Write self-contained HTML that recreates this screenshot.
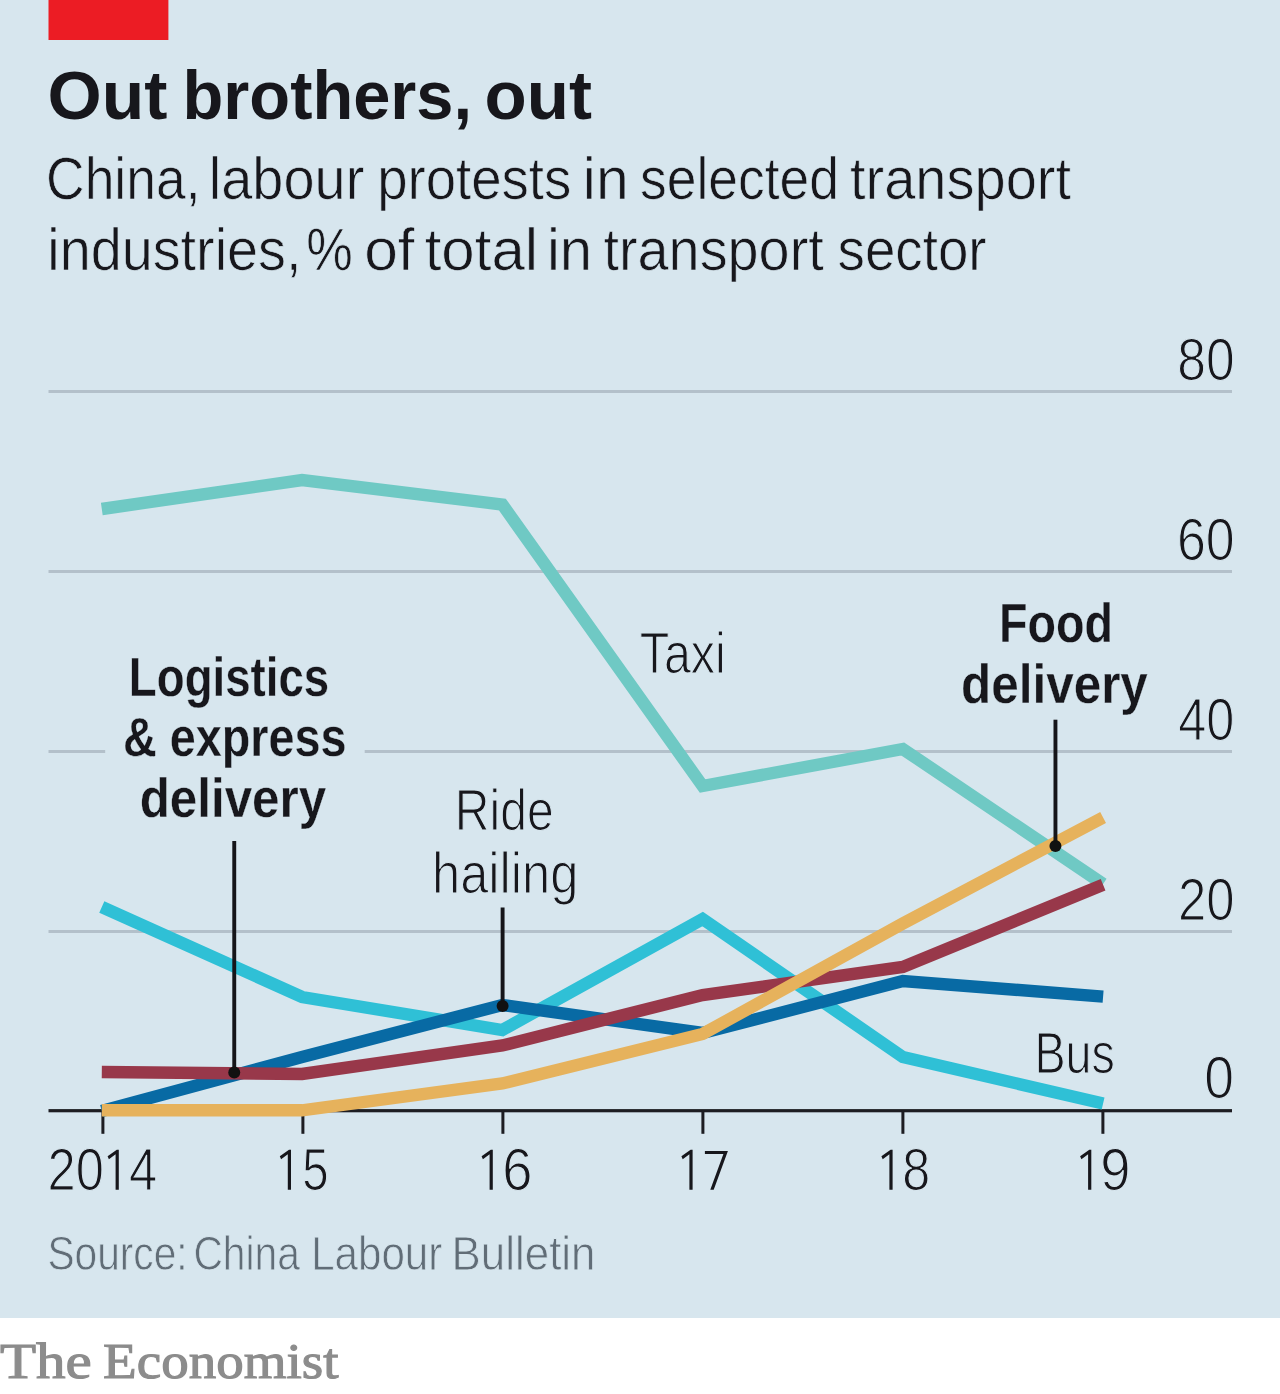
<!DOCTYPE html>
<html><head><meta charset="utf-8"><title>Out brothers, out</title>
<style>html,body{margin:0;padding:0;background:#fff}svg{display:block;will-change:transform}text{font-family:"Liberation Sans",sans-serif}</style></head>
<body>
<svg width="1280" height="1394" viewBox="0 0 1280 1394">
<rect x="0" y="0" width="1280" height="1318" fill="#d7e6ee"/>
<rect x="48.5" y="0" width="119.9" height="40" fill="#ec1c24"/>
<rect x="48.5" y="390.0" width="1183.5" height="3" fill="#b3c0ca"/>
<rect x="48.5" y="570.0" width="1183.5" height="3" fill="#b3c0ca"/>
<rect x="48.5" y="930.0" width="1183.5" height="3" fill="#b3c0ca"/>
<rect x="48.5" y="750.0" width="56.7" height="3" fill="#b3c0ca"/>
<rect x="364.7" y="750.0" width="867.3" height="3" fill="#b3c0ca"/>
<rect x="48.5" y="1109.1" width="1183.5" height="3.2" fill="#1d1d22"/>
<rect x="101.4" y="1110" width="3" height="23.8" fill="#1d1d22"/>
<rect x="301.4" y="1110" width="3" height="23.8" fill="#1d1d22"/>
<rect x="501.4" y="1110" width="3" height="23.8" fill="#1d1d22"/>
<rect x="701.4" y="1110" width="3" height="23.8" fill="#1d1d22"/>
<rect x="901.4" y="1110" width="3" height="23.8" fill="#1d1d22"/>
<rect x="1101.4" y="1110" width="3" height="23.8" fill="#1d1d22"/>
<polyline points="101.8,509 302.06,480 502.32,504.5 702.58,786 902.84,749 1103.1,884" fill="none" stroke="#6fc9c4" stroke-width="12.4" stroke-linejoin="miter" stroke-linecap="butt"/>
<polyline points="101.8,907 302.06,997 502.32,1030 702.58,919 902.84,1057 1103.1,1103.5" fill="none" stroke="#2fc0d6" stroke-width="12.4" stroke-linejoin="miter" stroke-linecap="butt"/>
<polyline points="101.8,1111 302.06,1057 502.32,1005 702.58,1033 902.84,981 1103.1,996.6" fill="none" stroke="#086aa4" stroke-width="12.4" stroke-linejoin="miter" stroke-linecap="butt"/>
<polyline points="101.8,1072 302.06,1074 502.32,1045.5 702.58,995 902.84,967 1103.1,884.8" fill="none" stroke="#98384a" stroke-width="12.4" stroke-linejoin="miter" stroke-linecap="butt"/>
<polyline points="101.8,1110.3 302.06,1110.3 502.32,1083.5 702.58,1034 902.84,923.5 1103.1,817.5" fill="none" stroke="#e6b25c" stroke-width="12.4" stroke-linejoin="miter" stroke-linecap="butt"/>
<rect x="232.30" y="841" width="3.9" height="231.50" fill="#151519"/>
<circle cx="234.25" cy="1072.5" r="6" fill="#111"/>
<rect x="500.65" y="907.5" width="3.9" height="98.50" fill="#151519"/>
<circle cx="502.6" cy="1006.0" r="6" fill="#111"/>
<rect x="1053.50" y="719.7" width="3.9" height="126.40" fill="#151519"/>
<circle cx="1055.45" cy="846.1" r="6" fill="#111"/>
<polygon points="118.80,1149.70 118.80,1189.80 115.60,1189.80 115.60,1154.30 108.90,1159.20 107.60,1156.30 116.80,1149.70" fill="#17171c"/>
<polygon points="291.00,1149.70 291.00,1189.80 287.80,1189.80 287.80,1154.30 281.10,1159.20 279.80,1156.30 289.00,1149.70" fill="#17171c"/>
<polygon points="492.80,1149.70 492.80,1189.80 489.60,1189.80 489.60,1154.30 482.90,1159.20 481.60,1156.30 490.80,1149.70" fill="#17171c"/>
<polygon points="692.60,1149.70 692.60,1189.80 689.40,1189.80 689.40,1154.30 682.70,1159.20 681.40,1156.30 690.60,1149.70" fill="#17171c"/>
<polygon points="892.60,1149.70 892.60,1189.80 889.40,1189.80 889.40,1154.30 882.70,1159.20 881.40,1156.30 890.60,1149.70" fill="#17171c"/>
<polygon points="1091.30,1149.70 1091.30,1189.80 1088.10,1189.80 1088.10,1154.30 1081.40,1159.20 1080.10,1156.30 1089.30,1149.70" fill="#17171c"/>
<polygon points="704.9,1151.1 727.9,1151.1 713.7,1189.8 710.3,1189.8 723.4,1154.0 704.9,1154.0" fill="#17171c"/>
<text transform="translate(47.53,118.90) scale(1.0246,1)" font-weight="bold" font-size="68" fill="#17171c">Out</text>
<text transform="translate(182.56,118.90) scale(0.9825,1)" font-weight="bold" font-size="68" fill="#17171c">brothers,</text>
<text transform="translate(484.57,118.90) scale(1.0156,1)" font-weight="bold" font-size="68" fill="#17171c">out</text>
<text transform="translate(46.07,199.40) scale(0.9057,1)" font-size="59" fill="#17171c" stroke="#d7e6ee" stroke-width="0.7">China,</text>
<text transform="translate(208.85,199.40) scale(0.9476,1)" font-size="59" fill="#17171c" stroke="#d7e6ee" stroke-width="0.7">labour</text>
<text transform="translate(377.14,199.40) scale(0.9254,1)" font-size="59" fill="#17171c" stroke="#d7e6ee" stroke-width="0.7">protests</text>
<text transform="translate(582.85,199.40) scale(0.9973,1)" font-size="59" fill="#17171c" stroke="#d7e6ee" stroke-width="0.7">in</text>
<text transform="translate(640.05,199.40) scale(0.9053,1)" font-size="59" fill="#17171c" stroke="#d7e6ee" stroke-width="0.7">selected</text>
<text transform="translate(849.97,199.40) scale(0.9497,1)" font-size="59" fill="#17171c" stroke="#d7e6ee" stroke-width="0.7">transport</text>
<text transform="translate(47.27,269.70) scale(0.9457,1)" font-size="59" fill="#17171c" stroke="#d7e6ee" stroke-width="0.7">industries,</text>
<text transform="translate(306.31,269.70) scale(0.8877,1)" font-size="59" fill="#17171c" stroke="#d7e6ee" stroke-width="0.7">%</text>
<text transform="translate(364.22,269.70) scale(1.0253,1)" font-size="59" fill="#17171c" stroke="#d7e6ee" stroke-width="0.7">of</text>
<text transform="translate(424.68,269.70) scale(1.0170,1)" font-size="59" fill="#17171c" stroke="#d7e6ee" stroke-width="0.7">total</text>
<text transform="translate(546.91,269.70) scale(0.9839,1)" font-size="59" fill="#17171c" stroke="#d7e6ee" stroke-width="0.7">in</text>
<text transform="translate(603.47,269.70) scale(0.9462,1)" font-size="59" fill="#17171c" stroke="#d7e6ee" stroke-width="0.7">transport</text>
<text transform="translate(837.60,269.70) scale(0.9271,1)" font-size="59" fill="#17171c" stroke="#d7e6ee" stroke-width="0.7">sector</text>
<text transform="translate(1177.37,379.70) scale(0.8811,1)" font-size="58.5" fill="#17171c" stroke="#d7e6ee" stroke-width="1.2">80</text>
<text transform="translate(1176.98,559.70) scale(0.8873,1)" font-size="58.5" fill="#17171c" stroke="#d7e6ee" stroke-width="1.2">60</text>
<text transform="translate(1178.27,739.70) scale(0.8633,1)" font-size="58.5" fill="#17171c" stroke="#d7e6ee" stroke-width="1.2">40</text>
<text transform="translate(1177.88,919.80) scale(0.8697,1)" font-size="58.5" fill="#17171c" stroke="#d7e6ee" stroke-width="1.2">20</text>
<text transform="translate(1204.26,1098.40) scale(0.9145,1)" font-size="58.5" fill="#17171c" stroke="#d7e6ee" stroke-width="1.2">0</text>
<text transform="translate(639.73,673.00) scale(0.8346,1)" font-size="58" fill="#17171c" stroke="#d7e6ee" stroke-width="1.2">Taxi</text>
<text transform="translate(998.99,642.40) scale(0.8516,1)" font-weight="bold" font-size="54.8" fill="#17171c" stroke="#d7e6ee" stroke-width="0.3">Food</text>
<text transform="translate(961.11,703.30) scale(0.9018,1)" font-weight="bold" font-size="54.8" fill="#17171c" stroke="#d7e6ee" stroke-width="0.3">delivery</text>
<text transform="translate(128.87,696.30) scale(0.8333,1)" font-weight="bold" font-size="54.8" fill="#17171c" stroke="#d7e6ee" stroke-width="0.3">Logistics</text>
<text transform="translate(122.93,755.90) scale(0.8533,1)" font-weight="bold" font-size="54.8" fill="#17171c" stroke="#d7e6ee" stroke-width="0.3">&amp; express</text>
<text transform="translate(139.71,816.90) scale(0.9003,1)" font-weight="bold" font-size="54.8" fill="#17171c" stroke="#d7e6ee" stroke-width="0.3">delivery</text>
<text transform="translate(454.81,830.20) scale(0.8429,1)" font-size="57" fill="#17171c" stroke="#d7e6ee" stroke-width="1.2">Ride</text>
<text transform="translate(432.01,893.40) scale(0.8890,1)" font-size="57" fill="#17171c" stroke="#d7e6ee" stroke-width="1.2">hailing</text>
<text transform="translate(1034.38,1072.50) scale(0.8053,1)" font-size="58" fill="#17171c" stroke="#d7e6ee" stroke-width="1.2">Bus</text>
<text transform="translate(47.49,1189.90) scale(0.8663,1)" font-size="58.5" fill="#17171c" stroke="#d7e6ee" stroke-width="1.2">20</text>
<text transform="translate(129.06,1189.90) scale(0.8679,1)" font-size="58.5" fill="#17171c" stroke="#d7e6ee" stroke-width="1.2">4</text>
<text transform="translate(302.14,1189.90) scale(0.8114,1)" font-size="58.5" fill="#17171c" stroke="#d7e6ee" stroke-width="1.2">5</text>
<text transform="translate(502.34,1189.90) scale(0.9278,1)" font-size="58.5" fill="#17171c" stroke="#d7e6ee" stroke-width="1.2">6</text>
<text transform="translate(902.14,1189.90) scale(0.8582,1)" font-size="58.5" fill="#17171c" stroke="#d7e6ee" stroke-width="1.2">8</text>
<text transform="translate(1100.21,1189.90) scale(0.9305,1)" font-size="58.5" fill="#17171c" stroke="#d7e6ee" stroke-width="1.2">9</text>
<text transform="translate(47.40,1270.40) scale(0.8306,1)" font-size="49" fill="#616d77" stroke="#d7e6ee" stroke-width="0.8">Source:</text>
<text transform="translate(193.40,1270.40) scale(0.8319,1)" font-size="49" fill="#616d77" stroke="#d7e6ee" stroke-width="0.8">China</text>
<text transform="translate(311.15,1270.40) scale(0.8600,1)" font-size="49" fill="#616d77" stroke="#d7e6ee" stroke-width="0.8">Labour</text>
<text transform="translate(451.59,1270.40) scale(0.8956,1)" font-size="49" fill="#616d77" stroke="#d7e6ee" stroke-width="0.8">Bulletin</text>
<text transform="translate(-0.09,1378.00) scale(1.1701,1)" style="font-family:'Liberation Serif',serif" font-size="50.5" fill="#8c8c8c" stroke="#8c8c8c" stroke-width="1.1">The</text>
<text transform="translate(103.11,1378.00) scale(1.0902,1)" style="font-family:'Liberation Serif',serif" font-size="50.5" fill="#8c8c8c" stroke="#8c8c8c" stroke-width="1.1">Economist</text>
</svg>
</body></html>
